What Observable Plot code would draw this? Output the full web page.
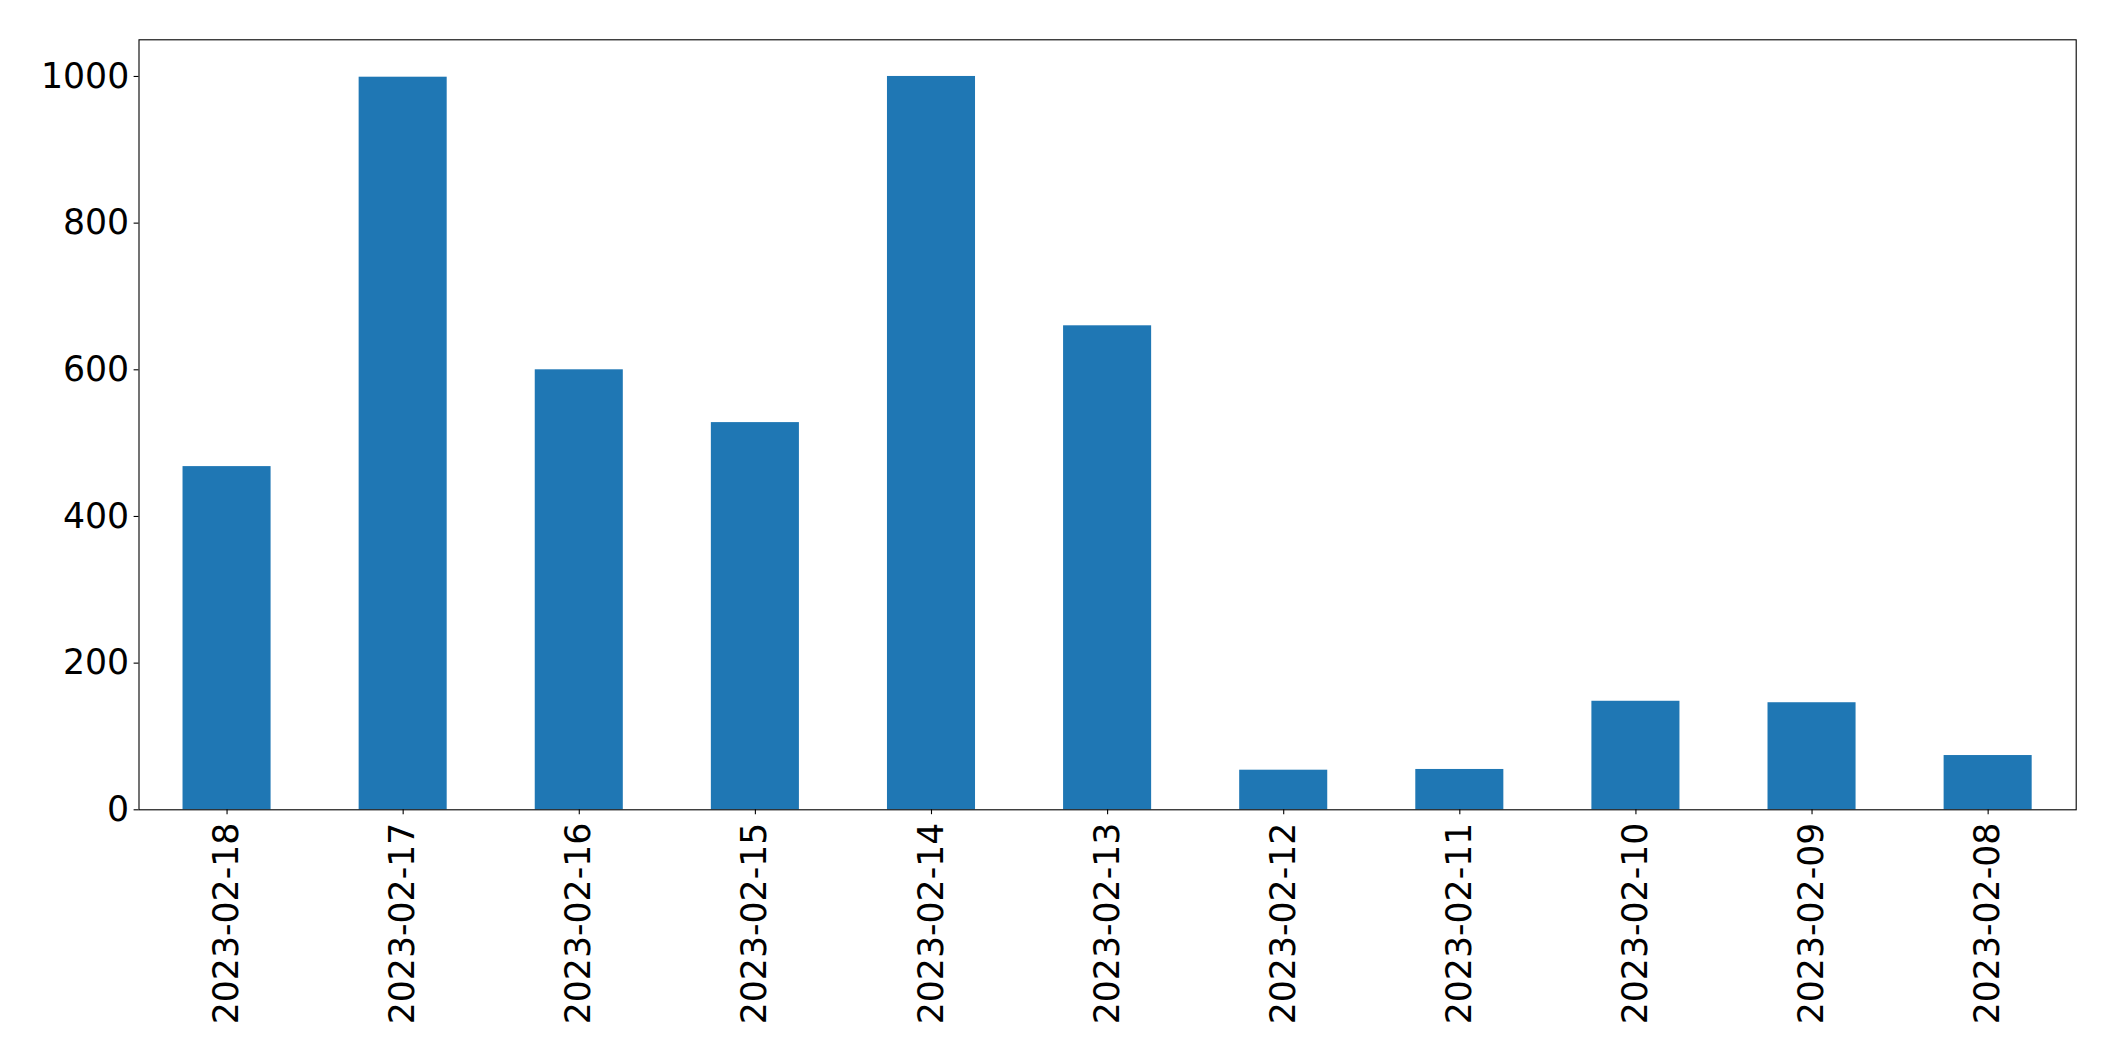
<!DOCTYPE html>
<html>
<head>
<meta charset="utf-8">
<script src="https://cdn.jsdelivr.net/npm/d3@7"></script>
<script src="https://cdn.jsdelivr.net/npm/@observablehq/plot@0.6"></script>
<style>
  html, body { margin: 0; padding: 0; background: #fff; }
  #chart svg { display: block; }
</style>
</head>
<body>
<div id="chart"></div>
<script>
const dates = ["2023-02-18","2023-02-17","2023-02-16","2023-02-15","2023-02-14","2023-02-13","2023-02-12","2023-02-11","2023-02-10","2023-02-09","2023-02-08"];
const counts = [468, 999, 600, 528, 1000, 660, 54, 55, 148, 146, 74];
const yTicks = [0, 200, 400, 600, 800, 1000];

const data = dates.map((d, i) => ({date: d, value: counts[i]}));

const fontSize = 34.7;
const chart = Plot.plot({
  width: 2115,
  height: 1061,
  marginLeft: 138.5,
  marginRight: 39.3,
  marginTop: 39.3,
  marginBottom: 251.7,
  style: {fontFamily: "DejaVu Sans", fontSize: fontSize + "px", color: "#000", background: "#fff"},
  x: {type: "band", domain: dates, paddingInner: 0.5, paddingOuter: 0.25, round: false, label: null},
  y: {domain: [0, 1050], label: null},
  marks: [
    Plot.barY(data, {x: "date", y: "value", fill: "#1f77b4"}),
    Plot.axisY({ticks: yTicks, tickFormat: d => String(d), tickSize: 4.9, tickPadding: 4.9, label: null, fontSize: fontSize, stroke: "#000", strokeWidth: 1.1}),
    Plot.axisX({tickRotate: -90, tickSize: 4.9, tickPadding: 8, label: null, fontSize: fontSize, stroke: "#000", strokeWidth: 1.1}),
    Plot.frame({stroke: "#000", strokeWidth: 1.1})
  ]
});
document.getElementById("chart").appendChild(chart);
</script>
</body>
</html>
